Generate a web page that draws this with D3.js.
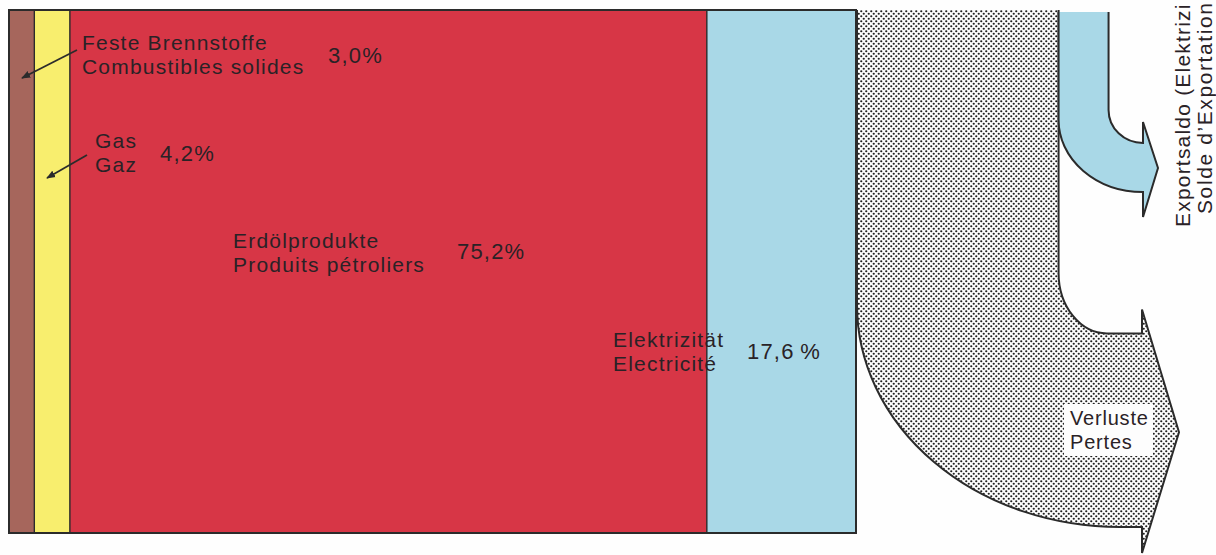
<!DOCTYPE html>
<html>
<head>
<meta charset="utf-8">
<script src="https://cdn.jsdelivr.net/npm/d3@7"></script>
<style>
  body { margin: 0; background: #fefefe; }
  svg { display: block; }
  text { font-family: "Liberation Sans", Arial, sans-serif; fill: #2a2226; }
</style>
</head>
<body>
<svg id="chart" width="1216" height="555"></svg>
<script>
//----------------data--------------//
const sourcesDe = ["Feste Brennstoffe", "Gas", "Erdölprodukte", "Elektrizität"];
const sourcesFr = ["Combustibles solides", "Gaz", "Produits pétroliers", "Electricité"];
const shares = [3.0, 4.2, 75.2, 17.6];
const shareLabels = ["3,0%", "4,2%", "75,2%", "17,6\u2009%"];
// outflows on the right side (widths, same scale as the bar)
// the export label runs off the top edge in the original, only the visible part is kept
const flowsDe = ["Verluste", "Exportsaldo (Elektrizi"];
const flowsFr = ["Pertes", "Solde d’Exportation"];
const flowShares = [23.8, 5.9];

//----------------layout--------------//
const svg = d3.select("#chart");
const barTop = 10, barBottom = 533;
const colors = ["#a6665c", "#f8ee6e", "#d73646", "#a9d8e7"];
const ink = "#2b2b2b";

const x = d3.scaleLinear().domain([0, 100]).range([9, 856]);
const starts = [0, ...d3.cumsum(shares)];

// label spots for each segment: [x, y of first line, x of percent, y of percent]
const labelPos = [
  [82, 50, 328, 63],
  [95, 148, 160, 161],
  [233, 248, 457, 259],
  [613, 347, 747, 359]
];

//----------------dot pattern--------------//
const defs = svg.append("defs");
const pat = defs.append("pattern")
  .attr("id", "dots")
  .attr("patternUnits", "userSpaceOnUse")
  .attr("width", 5).attr("height", 5);
pat.append("rect").attr("width", 5).attr("height", 5).attr("fill", "#fdfdfd");
pat.append("circle").attr("cx", 1.25).attr("cy", 1.25).attr("r", 1.1).attr("fill", "#1f1f1f");
pat.append("circle").attr("cx", 3.75).attr("cy", 3.75).attr("r", 1.1).attr("fill", "#1f1f1f");

defs.append("marker")
  .attr("id", "head")
  .attr("viewBox", "0 0 10 10")
  .attr("refX", 9).attr("refY", 5)
  .attr("markerWidth", 9).attr("markerHeight", 9)
  .attr("markerUnits", "userSpaceOnUse")
  .attr("orient", "auto")
  .append("path")
  .attr("d", "M0,1 L10,5 L0,9 Z")
  .attr("fill", ink);

//----------------stacked bar--------------//
svg.append("g").selectAll("rect")
  .data(shares)
  .join("rect")
  .attr("x", (d, i) => x(starts[i]))
  .attr("y", barTop)
  .attr("width", d => x(d) - x(0))
  .attr("height", barBottom - barTop)
  .attr("fill", (d, i) => colors[i])
  .attr("stroke", ink)
  .attr("stroke-width", 1.2);

svg.append("rect")
  .attr("x", x(0)).attr("y", barTop)
  .attr("width", x(100) - x(0)).attr("height", barBottom - barTop)
  .attr("fill", "none").attr("stroke", ink).attr("stroke-width", 2);

//----------------outflow arrows--------------//
const lossL = x(100) + 1;
const lossR = lossL + x(flowShares[0]) - x(0);
const expR = lossR + x(flowShares[1]) - x(0);
const lossW = lossR - lossL;

// losses: goes down then bends to the right
const headX = 1142;
const bendY = 305, bendX = 1120;
const shaftBottom = barBottom - 6;
const shaftTop = shaftBottom - lossW + 8;
const innerY = 273;
const innerD = `A ${1107 - lossR} ${shaftTop - innerY} 0 0 0 1107 ${shaftTop}`;
const lossD = `M${lossR},${barTop} L${lossR},${innerY} ${innerD} L${headX},${shaftTop} ` +
  `L${headX},${shaftTop - 24} L${headX + 37},${(shaftTop + shaftBottom) / 2 + 2} ` +
  `L${headX},${shaftBottom + 26} L${headX},${shaftBottom} L${bendX},${shaftBottom} ` +
  `A ${bendX - lossL} ${shaftBottom - bendY} 0 0 1 ${lossL} ${bendY} L${lossL},${barTop}`;

svg.append("path")
  .attr("d", lossD)
  .attr("fill", "url(#dots)")
  .attr("stroke", ink)
  .attr("stroke-width", 2)
  .attr("stroke-linejoin", "miter");

// export balance: smaller blue arrow
const expD = `M${expR},${barTop + 2} L${expR},110 A ${1143 - expR} 33 0 0 0 1143 143 ` +
  `L1143,122 L1158,168 L1143,217 L1143,192 A ${1143 - lossR} 72 0 0 1 ${lossR} 120 L${lossR},${barTop + 2}`;

svg.append("path")
  .attr("d", expD)
  .attr("fill", colors[3])
  .attr("stroke", ink)
  .attr("stroke-width", 2);

// white box behind the losses label
svg.append("rect")
  .attr("x", 1064).attr("y", 404)
  .attr("width", 89).attr("height", 52)
  .attr("fill", "#fdfdfd");

//----------------labels--------------//
const labels = svg.append("g").attr("font-size", 21).attr("letter-spacing", 1.2);

shares.forEach((d, i) => {
  const [lx, ly, px, py] = labelPos[i];
  labels.append("text").attr("x", lx).attr("y", ly).text(sourcesDe[i]);
  labels.append("text").attr("x", lx).attr("y", ly + 24).text(sourcesFr[i]);
  labels.append("text").attr("x", px).attr("y", py).attr("font-size", 22).text(shareLabels[i]);
});

// pointer arrows for the two narrow segments
const pointers = [[77, 50, 22, 78], [87, 155, 47, 178]];
svg.append("g").selectAll("line")
  .data(pointers)
  .join("line")
  .attr("x1", d => d[0]).attr("y1", d => d[1])
  .attr("x2", d => d[2]).attr("y2", d => d[3])
  .attr("stroke", ink).attr("stroke-width", 1.8)
  .attr("marker-end", "url(#head)");

labels.append("text").attr("x", 1070).attr("y", 425).attr("font-size", 20).attr("letter-spacing", 0.8).text(flowsDe[0]);
labels.append("text").attr("x", 1070).attr("y", 449).attr("font-size", 20).attr("letter-spacing", 0.8).text(flowsFr[0]);

// export label, rotated
labels.append("text")
  .attr("transform", "translate(1190,227) rotate(-90)")
  .attr("font-size", 21).attr("letter-spacing", 1.2)
  .text(flowsDe[1]);
labels.append("text")
  .attr("transform", "translate(1212,214) rotate(-90)")
  .attr("font-size", 21).attr("letter-spacing", 1.6)
  .text(flowsFr[1]);
</script>
</body>
</html>
